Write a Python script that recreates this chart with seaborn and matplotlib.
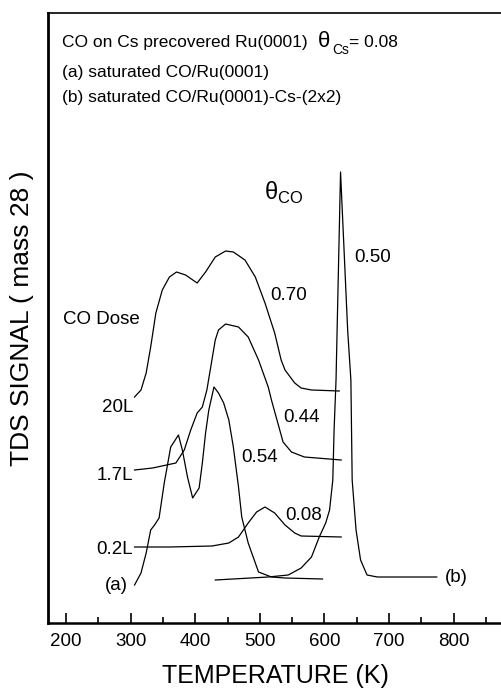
import numpy as np
import pandas as pd
import seaborn as sns
import matplotlib.pyplot as plt
from matplotlib.ticker import MultipleLocator
from matplotlib.transforms import offset_copy

# TDS spectra (temperature in K, signal in arbitrary units)
t_20L = [306, 316, 324, 331, 339, 349, 360, 371, 385, 403, 416, 431, 447, 459,
         477, 493, 508, 523, 533, 539, 554, 564, 580, 623]
s_20L = [226, 233, 250, 276, 310, 333, 346, 351, 348, 340, 351, 366, 372, 371,
         363, 346, 320, 290, 263, 253, 240, 235, 233, 232]

t_17L = [306, 334, 370, 383, 393, 403, 411, 418, 424, 431, 436, 447, 467, 482,
         498, 513, 518, 536, 549, 569, 626]
s_17L = [153, 155, 160, 173, 193, 210, 216, 233, 256, 283, 293, 299, 296, 286,
         263, 236, 223, 181, 171, 166, 163]

t_02L = [306, 360, 426, 452, 467, 482, 495, 508, 523, 539, 554, 564, 626]
s_02L = [76, 76, 77, 80, 86, 100, 111, 116, 110, 98, 90, 87, 86]

t_a = [306, 316, 324, 331, 337, 344, 352, 362, 366, 374, 380, 388, 396, 406,
       411, 416, 421, 429, 436, 444, 452, 459, 467, 472, 482, 498, 518, 539, 597]
s_a = [38, 50, 70, 93, 98, 105, 140, 176, 180, 188, 173, 146, 125, 135,
       160, 190, 213, 236, 230, 220, 203, 176, 136, 106, 80, 51, 46, 45, 44]

t_b = [431, 513, 544, 564, 580, 592, 602, 608, 613, 615, 618, 625, 636, 641,
       643, 649, 656, 666, 682, 774]
s_b = [43, 46, 48, 55, 66, 86, 100, 113, 143, 193, 243, 451, 293, 243,
       143, 93, 63, 48, 46, 46]

curves = [(t_20L, s_20L), (t_17L, s_17L), (t_02L, s_02L), (t_a, s_a), (t_b, s_b)]

plt.rcParams['font.family'] = ['Liberation Sans', 'DejaVu Sans']
plt.rcParams['mathtext.fontset'] = 'custom'
plt.rcParams['mathtext.rm'] = 'Liberation Sans'

fig = plt.figure(figsize=(5.02, 6.91), dpi=100)
ax = fig.add_axes([48 / 502, 68 / 691, 1 - 48 / 502, 610 / 691])

for t, s in curves:
    sns.lineplot(x=t, y=s, ax=ax, sort=False, estimator=None,
                 color='black', lw=0.9)

ax.set_xlim(172, 875)
ax.set_ylim(0, 610)

fs = 13.5
# dose labels on the left
ax.text(304, 216, '20L', ha='right', va='center', fontsize=fs)
ax.text(304, 148, '1.7L', ha='right', va='center', fontsize=fs)
ax.text(304, 73, '0.2L', ha='right', va='center', fontsize=fs)
ax.text(296, 38, '(a)', ha='right', va='center', fontsize=fs)
ax.text(786, 45, '(b)', ha='left', va='center', fontsize=fs)
ax.text(195, 304, 'CO Dose', ha='left', va='center', fontsize=fs)

# coverage labels
ax.text(516, 328, '0.70', ha='left', va='center', fontsize=fs)
ax.text(536, 206, '0.44', ha='left', va='center', fontsize=fs)
ax.text(539, 108, '0.08', ha='left', va='center', fontsize=fs)
ax.text(472, 165, '0.54', ha='left', va='center', fontsize=fs)
ax.text(646, 366, '0.50', ha='left', va='center', fontsize=fs)
ax.text(507, 430, 'θ$_{\\mathrm{CO}}$', ha='left', va='center', fontsize=17)

# header, first line built from pieces so theta can be larger
hfs = 12.5
t1 = ax.text(0.031, 0.951, 'CO on Cs precovered Ru(0001)',
             transform=ax.transAxes, ha='left', va='center', fontsize=hfs)
ax.text(0.031, 0.903, '(a) saturated CO/Ru(0001)',
        transform=ax.transAxes, ha='left', va='center', fontsize=hfs)
ax.text(0.031, 0.861, '(b) saturated CO/Ru(0001)-Cs-(2x2)',
        transform=ax.transAxes, ha='left', va='center', fontsize=hfs)

fig.canvas.draw()
r = fig.canvas.get_renderer()
x0 = ax.transAxes.inverted().transform((t1.get_window_extent(r).x1, 0))[0]
th = ax.text(x0, 0.951, 'θ', transform=offset_copy(ax.transAxes, fig, x=10, y=1, units='dots'),
             ha='left', va='center', fontsize=16)
fig.canvas.draw()
x1 = ax.transAxes.inverted().transform((th.get_window_extent(r).x1, 0))[0]
cs = ax.text(x1, 0.951, 'Cs', transform=offset_copy(ax.transAxes, fig, x=2, y=-7, units='dots'),
             ha='left', va='center', fontsize=10)
fig.canvas.draw()
x2 = ax.transAxes.inverted().transform((cs.get_window_extent(r).x1, 0))[0]
ax.text(x2, 0.951, '= 0.08', transform=ax.transAxes, ha='left', va='center', fontsize=hfs)

ax.xaxis.set_major_locator(MultipleLocator(100))
ax.xaxis.set_minor_locator(MultipleLocator(50))
ax.tick_params(axis='x', which='major', direction='in', length=7, width=1.2,
               labelsize=fs, pad=7)
ax.tick_params(axis='x', which='minor', direction='in', length=4, width=1.2)
ax.set_yticks([])
ax.set_xticks([200, 300, 400, 500, 600, 700, 800])

ax.spines['right'].set_visible(False)
ax.spines['left'].set_linewidth(2)
ax.spines['bottom'].set_linewidth(1.8)
ax.spines['top'].set_linewidth(1.2)

ax.set_xlabel('TEMPERATURE (K)', fontsize=18, labelpad=10)
ax.set_ylabel('TDS SIGNAL ( mass 28 )', fontsize=19, labelpad=10)

plt.savefig('out.png', dpi=100)
